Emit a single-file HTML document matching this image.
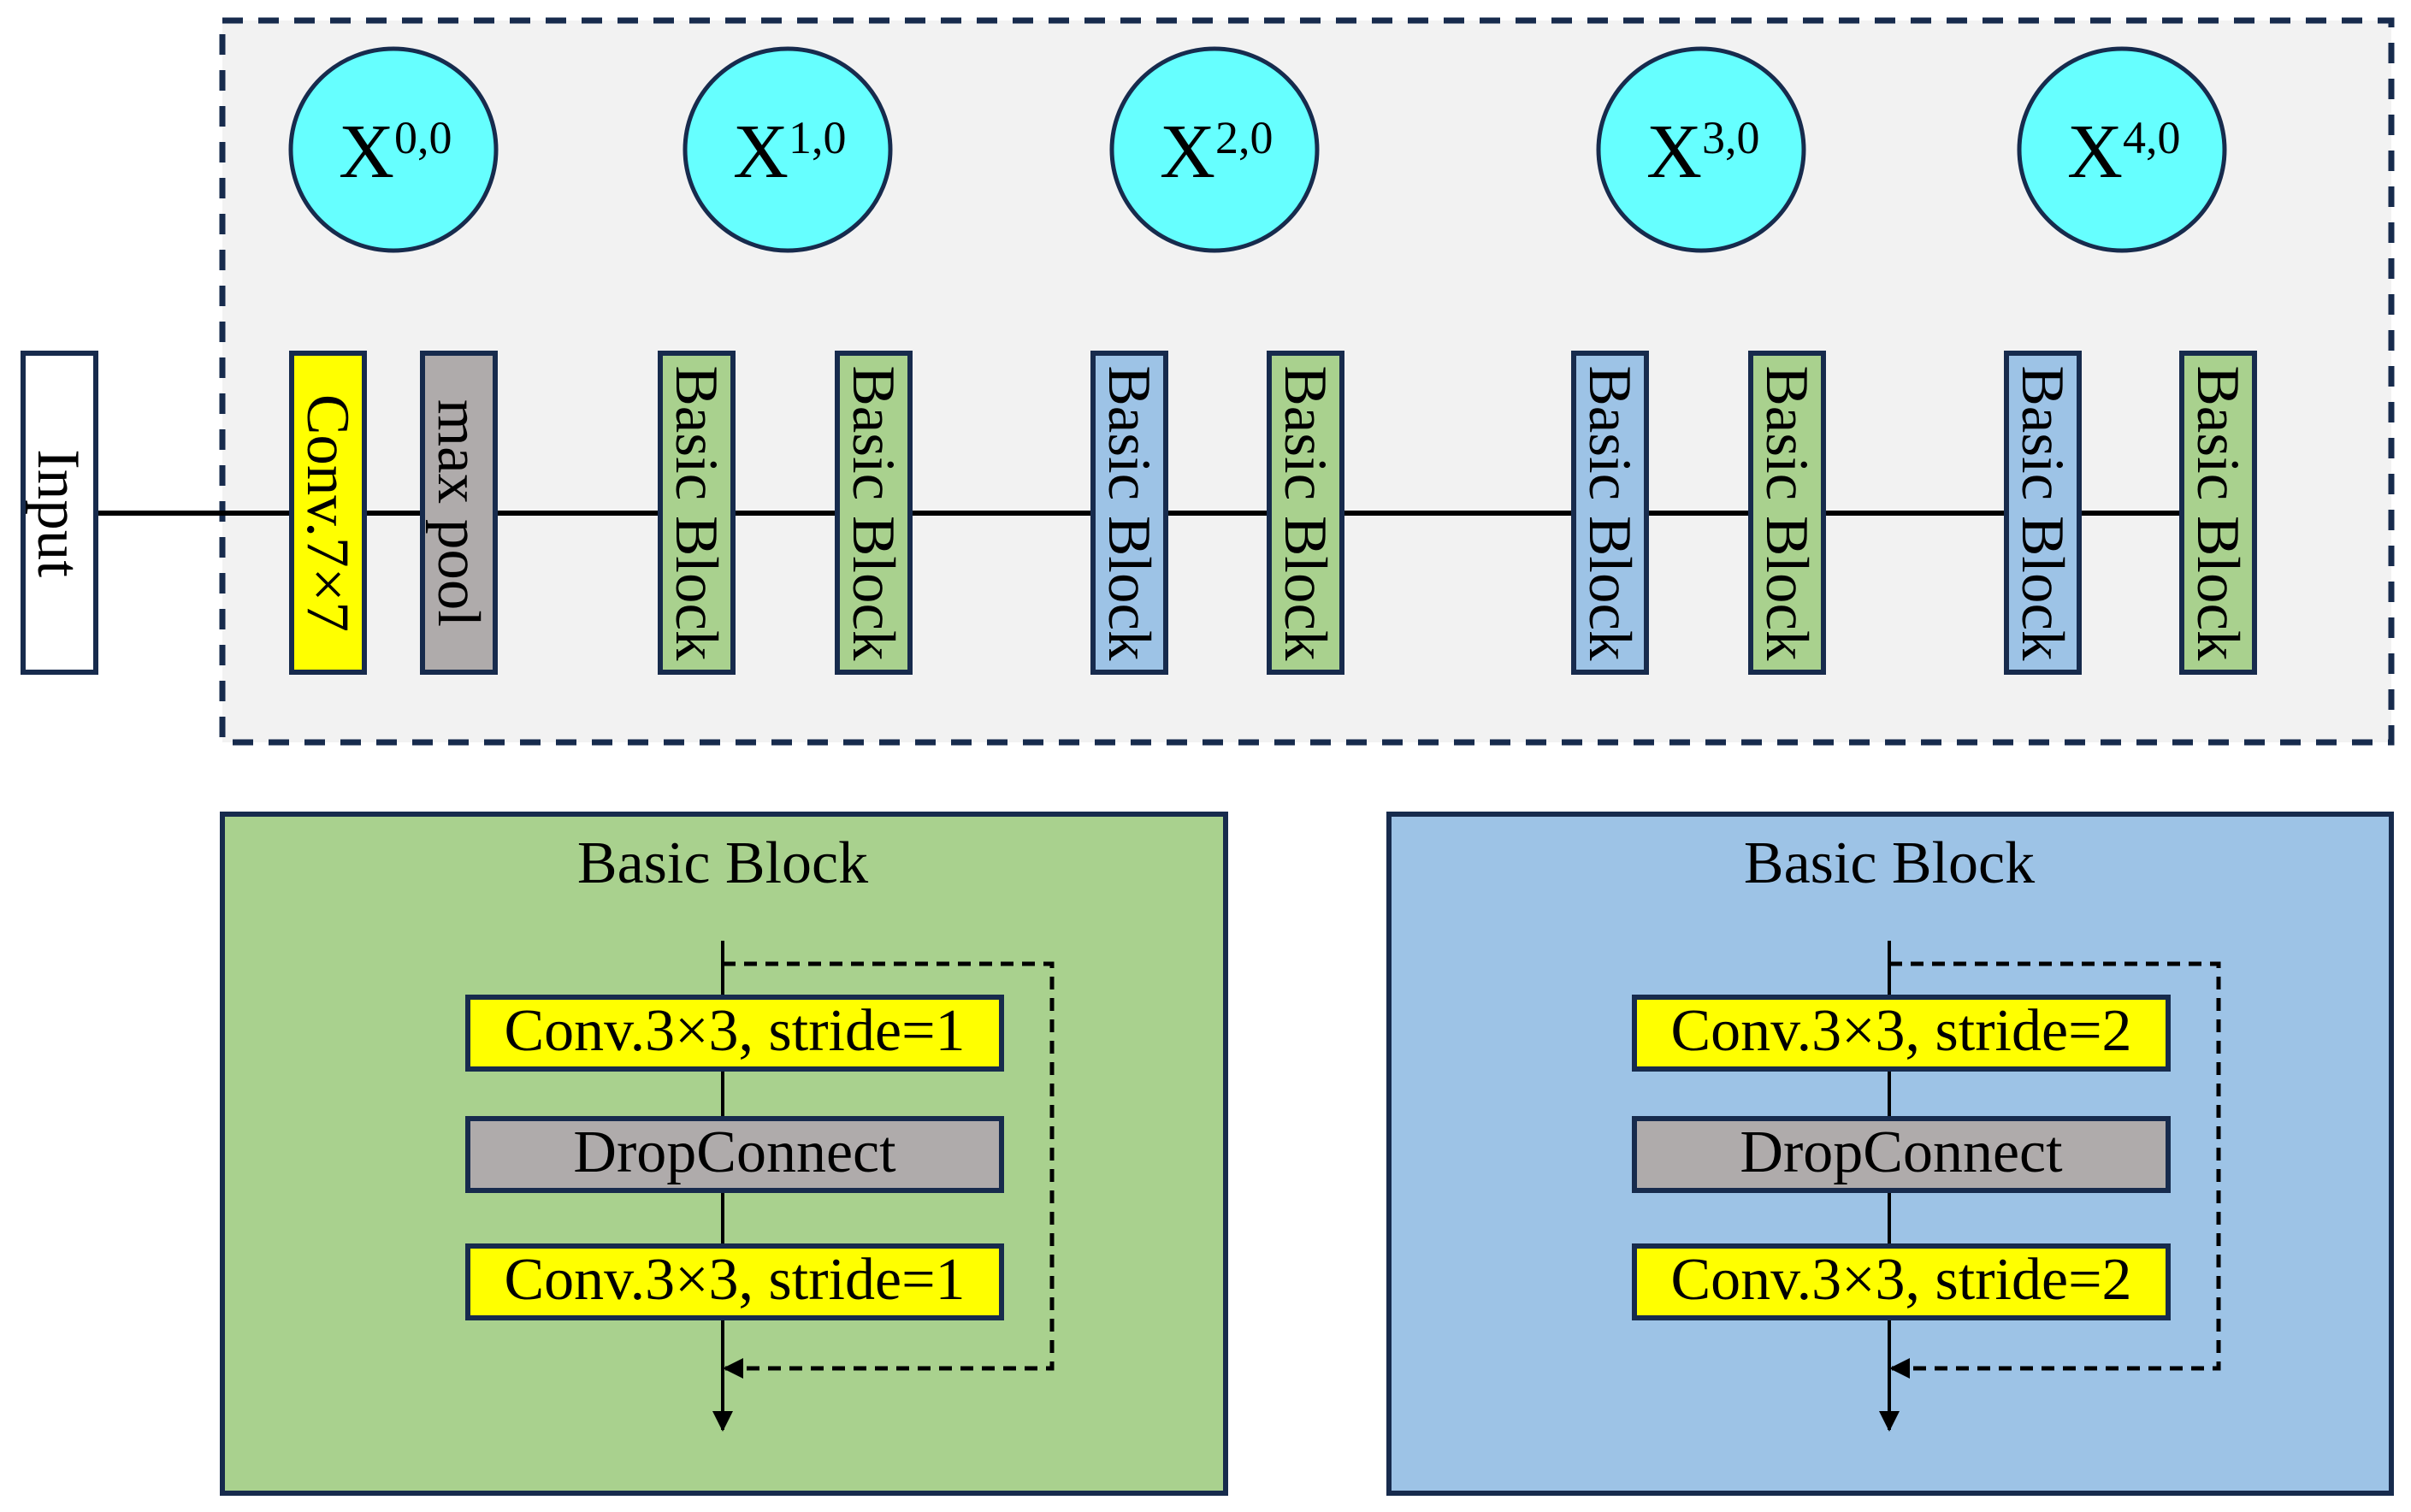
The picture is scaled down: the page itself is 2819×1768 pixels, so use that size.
<!DOCTYPE html>
<html><head><meta charset="utf-8"><style>html,body{margin:0;padding:0;background:#fff}svg{display:block}</style></head>
<body>
<svg width="2819" height="1768" viewBox="0 0 2819 1768" xmlns="http://www.w3.org/2000/svg" font-family="'Liberation Serif', serif">
<defs>
<marker id="ah" markerWidth="24" markerHeight="30" refX="22" refY="12" orient="auto" markerUnits="userSpaceOnUse" viewBox="0 0 24 24"><path d="M0,0 L24,12 L0,24 z" fill="#000"/></marker>
</defs>
<rect x="0" y="0" width="2819" height="1768" fill="#fff"/>
<rect x="260" y="24" width="2536" height="844" fill="#f2f2f2" stroke="#172b4d" stroke-width="7" stroke-dasharray="24,18"/>
<line x1="112" y1="600" x2="2552" y2="600" stroke="#000" stroke-width="6"/>
<g stroke="#172b4d" stroke-width="5" fill="#66ffff">
<ellipse cx="460" cy="175" rx="120" ry="118"/>
<ellipse cx="921" cy="175" rx="120" ry="118"/>
<ellipse cx="1420" cy="175" rx="120" ry="118"/>
<ellipse cx="1989" cy="175" rx="120" ry="118"/>
<ellipse cx="2481" cy="175" rx="120" ry="118"/>
</g>
<g font-size="90" fill="#000">
<text x="396" y="207">X<tspan font-size="54" dy="-28">0,0</tspan></text>
<text x="857" y="207">X<tspan font-size="54" dy="-28">1,0</tspan></text>
<text x="1356" y="207">X<tspan font-size="54" dy="-28">2,0</tspan></text>
<text x="1925" y="207">X<tspan font-size="54" dy="-28">3,0</tspan></text>
<text x="2417" y="207">X<tspan font-size="54" dy="-28">4,0</tspan></text>
</g>
<g stroke="#172b4d" stroke-width="6">
<rect x="27" y="413" width="85" height="373" fill="#fff"/>
<rect x="341" y="413" width="85" height="373" fill="#ffff00"/>
<rect x="494" y="413" width="85" height="373" fill="#afabab"/>
<rect x="772" y="413" width="85" height="373" fill="#a9d18e"/>
<rect x="979" y="413" width="85" height="373" fill="#a9d18e"/>
<rect x="1278" y="413" width="85" height="373" fill="#9dc3e6"/>
<rect x="1484" y="413" width="85" height="373" fill="#a9d18e"/>
<rect x="1840" y="413" width="85" height="373" fill="#9dc3e6"/>
<rect x="2047" y="413" width="85" height="373" fill="#a9d18e"/>
<rect x="2346" y="413" width="85" height="373" fill="#9dc3e6"/>
<rect x="2551" y="413" width="85" height="373" fill="#a9d18e"/>
</g>
<g font-size="71" fill="#000" text-anchor="middle">
<text transform="translate(45,600) rotate(90)">Input</text>
<text transform="translate(360,600) rotate(90)">Conv.7×7</text>
<text transform="translate(513,600) rotate(90)">max pool</text>
<text transform="translate(791,600) rotate(90)">Basic Block</text>
<text transform="translate(998,600) rotate(90)">Basic Block</text>
<text transform="translate(1297,600) rotate(90)">Basic Block</text>
<text transform="translate(1503,600) rotate(90)">Basic Block</text>
<text transform="translate(1859,600) rotate(90)">Basic Block</text>
<text transform="translate(2066,600) rotate(90)">Basic Block</text>
<text transform="translate(2365,600) rotate(90)">Basic Block</text>
<text transform="translate(2570,600) rotate(90)">Basic Block</text>
</g>
<g>
<rect x="260" y="952" width="1173" height="794" fill="#a9d18e" stroke="#172b4d" stroke-width="6"/>
<text x="845" y="1032" font-size="70" text-anchor="middle">Basic Block</text>
<line x1="845" y1="1100" x2="845" y2="1672" stroke="#000" stroke-width="4" marker-end="url(#ah)"/>
<polyline points="845,1127 1230,1127 1230,1600 847,1600" fill="none" stroke="#000" stroke-width="5" stroke-dasharray="15,10" marker-end="url(#ah)"/>
<rect x="547" y="1166" width="624" height="84" fill="#ffff00" stroke="#172b4d" stroke-width="6"/>
<rect x="547" y="1308" width="624" height="84" fill="#afabab" stroke="#172b4d" stroke-width="6"/>
<rect x="547" y="1457" width="624" height="84" fill="#ffff00" stroke="#172b4d" stroke-width="6"/>
<g font-size="70" text-anchor="middle">
<text x="859" y="1228">Conv.3×3, stride=1</text>
<text x="859" y="1370">DropConnect</text>
<text x="859" y="1519">Conv.3×3, stride=1</text>
</g>
</g>
<g>
<rect x="1624" y="952" width="1172" height="794" fill="#9dc3e6" stroke="#172b4d" stroke-width="6"/>
<text x="2209" y="1032" font-size="70" text-anchor="middle">Basic Block</text>
<line x1="2209" y1="1100" x2="2209" y2="1672" stroke="#000" stroke-width="4" marker-end="url(#ah)"/>
<polyline points="2209,1127 2594,1127 2594,1600 2211,1600" fill="none" stroke="#000" stroke-width="5" stroke-dasharray="15,10" marker-end="url(#ah)"/>
<rect x="1911" y="1166" width="624" height="84" fill="#ffff00" stroke="#172b4d" stroke-width="6"/>
<rect x="1911" y="1308" width="624" height="84" fill="#afabab" stroke="#172b4d" stroke-width="6"/>
<rect x="1911" y="1457" width="624" height="84" fill="#ffff00" stroke="#172b4d" stroke-width="6"/>
<g font-size="70" text-anchor="middle">
<text x="2223" y="1228">Conv.3×3, stride=2</text>
<text x="2223" y="1370">DropConnect</text>
<text x="2223" y="1519">Conv.3×3, stride=2</text>
</g>
</g>
</svg>
</body></html>
